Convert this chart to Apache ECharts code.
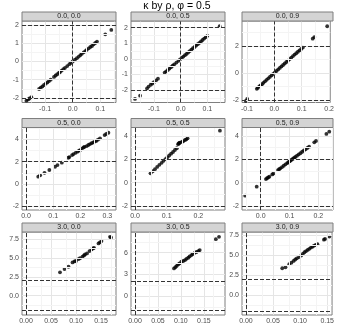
<!DOCTYPE html>
<html>
<head>
<meta charset="utf-8">
<script src="https://cdn.jsdelivr.net/npm/echarts@6/dist/echarts.min.js"></script>
<style>
html,body{margin:0;padding:0;background:#fff;}
#chart{width:337px;height:328px;}
</style>
</head>
<body>
<div id="chart"></div>
<script>
// ---------- data ----------
const titleText = 'κ by ρ, φ = 0.5';
const panelLabels = ['0.0, 0.0','0.0, 0.5','0.0, 0.9','0.5, 0.0','0.5, 0.5','0.5, 0.9','3.0, 0.0','3.0, 0.5','3.0, 0.9'];

const x00 = [-0.168,-0.162,-0.157,-0.150,-0.122,-0.116,-0.110,-0.104,-0.098,-0.092,-0.086,-0.080,-0.068,-0.062,-0.056,-0.050,-0.046,-0.040,-0.034,-0.028,-0.020,-0.012,-0.006,0.000,0.008,0.015,0.022,0.028,0.033,0.040,0.046,0.051,0.058,0.064,0.070,0.076,0.082,0.088,0.118,0.140];
const y00 = [-2.15,-2.08,-2.03,-1.96,-1.51,-1.44,-1.37,-1.29,-1.22,-1.15,-1.07,-1.00,-0.85,-0.77,-0.70,-0.62,-0.58,-0.50,-0.42,-0.35,-0.25,-0.15,-0.07,0.00,0.10,0.18,0.27,0.35,0.42,0.50,0.57,0.64,0.72,0.80,0.85,0.94,1.02,1.09,1.49,1.73];

const x05 = [-0.171,-0.152,-0.126,-0.120,-0.112,-0.106,-0.100,-0.092,-0.085,-0.060,-0.054,-0.048,-0.042,-0.036,-0.030,-0.024,-0.016,-0.008,-0.002,0.004,0.010,0.016,0.022,0.028,0.034,0.040,0.046,0.052,0.058,0.064,0.070,0.076,0.082,0.088,0.094,0.100,0.146];
const y05 = [-2.57,-2.36,-1.90,-1.78,-1.66,-1.58,-1.50,-1.38,-1.27,-0.88,-0.80,-0.71,-0.62,-0.53,-0.44,-0.35,-0.24,-0.12,-0.03,0.06,0.15,0.24,0.32,0.41,0.50,0.59,0.68,0.76,0.85,0.94,1.03,1.12,1.21,1.30,1.39,1.48,2.10];

const x09 = [-0.104,-0.099,-0.064,-0.060,-0.055,-0.050,-0.045,-0.040,-0.034,-0.028,-0.022,-0.016,-0.010,-0.004,0.002,0.008,0.014,0.020,0.026,0.032,0.038,0.044,0.050,0.056,0.062,0.068,0.074,0.080,0.086,0.092,0.098,0.104,0.140,0.146,0.193];
const y09 = [-2.07,-1.93,-1.18,-1.10,-1.00,-0.92,-0.83,-0.73,-0.62,-0.51,-0.40,-0.29,-0.18,-0.07,0.04,0.15,0.26,0.37,0.48,0.59,0.70,0.81,0.92,1.03,1.14,1.25,1.36,1.46,1.57,1.67,1.78,1.88,2.54,2.66,3.46];

const x50 = [0.045,0.052,0.068,0.086,0.107,0.116,0.132,0.156,0.160,0.170,0.175,0.183,0.190,0.196,0.200,0.206,0.212,0.216,0.224,0.230,0.236,0.242,0.248,0.254,0.260,0.266,0.273,0.290,0.296,0.304];
const y50 = [0.65,0.77,1.00,1.25,1.54,1.69,1.90,2.34,2.40,2.58,2.67,2.78,2.88,2.98,3.03,3.15,3.26,3.32,3.38,3.48,3.56,3.64,3.71,3.78,3.86,3.96,4.07,4.36,4.46,4.57];

const x55 = [0.049,0.056,0.063,0.070,0.077,0.084,0.090,0.096,0.102,0.108,0.114,0.120,0.126,0.132,0.136,0.138,0.140,0.142,0.148,0.152,0.158,0.162,0.166,0.268];
const y55 = [0.80,0.98,1.16,1.35,1.53,1.70,1.87,2.02,2.17,2.33,2.49,2.63,2.80,2.95,3.30,3.36,3.40,3.44,3.50,3.55,3.66,3.72,3.80,4.46];

const x59 = [-0.054,-0.014,0.018,0.022,0.026,0.030,0.040,0.044,0.060,0.064,0.068,0.074,0.080,0.086,0.092,0.096,0.100,0.104,0.108,0.112,0.116,0.120,0.126,0.132,0.138,0.144,0.150,0.156,0.162,0.168,0.186,0.192,0.228,0.238];
const y59 = [-1.11,-0.34,0.31,0.38,0.45,0.52,0.71,0.78,1.08,1.16,1.23,1.34,1.45,1.57,1.68,1.75,1.83,1.90,1.98,2.05,2.12,2.20,2.31,2.42,2.53,2.65,2.76,2.87,2.98,3.09,3.46,3.58,4.18,4.37];

const x30 = [0.068,0.077,0.085,0.093,0.097,0.100,0.105,0.108,0.113,0.116,0.118,0.122,0.127,0.131,0.134,0.136,0.145,0.148,0.151,0.168,0.170];
const y30 = [3.10,3.54,3.85,4.42,4.55,4.62,4.87,4.98,5.18,5.35,5.49,5.62,5.93,6.15,6.28,6.37,6.95,7.10,7.26,7.83,7.75];

const x35 = [0.085,0.088,0.091,0.094,0.097,0.101,0.105,0.109,0.112,0.116,0.119,0.123,0.126,0.130,0.134,0.138,0.141,0.176,0.183];
const y35 = [3.82,4.00,4.19,4.38,4.52,4.75,4.85,4.98,5.15,5.30,5.48,5.67,5.82,5.99,6.10,6.22,6.36,7.88,8.20];

const x39 = [0.067,0.073,0.080,0.084,0.088,0.091,0.094,0.098,0.102,0.105,0.108,0.111,0.114,0.117,0.120,0.123,0.126,0.129,0.132,0.144,0.146,0.154];
const y39 = [3.36,3.49,3.86,4.05,4.27,4.45,4.60,4.75,4.94,5.15,5.35,5.50,5.64,5.78,5.93,6.05,6.18,6.28,6.35,6.92,7.01,7.30];

const xSeries = [x00,x05,x09,x50,x55,x59,x30,x35,x39];
const ySeries = [y00,y05,y09,y50,y55,y59,y30,y35,y39];

// tick labels
const xTicks = [[-0.1,0,0.1],[-0.1,0,0.1],[-0.1,0,0.1,0.2],[0,0.1,0.2,0.3],[0,0.1,0.2],[0,0.1,0.2],[0,0.05,0.1,0.15],[0,0.05,0.1,0.15],[0,0.05,0.1,0.15]];
const xDigits = [1,1,1,1,1,1,2,2,2];
const yTicks = [[-2,-1,0,1,2],[-2,-1,0,1,2],[-2,0,2],[-2,0,2,4],[-2,0,2,4],[-2,0,2,4],[0,2.5,5,7.5],[0,3,6],[0,2.5,5,7.5]];
const yDigits = [0,0,0,0,0,0,1,0,1];

// axis ranges
const xMin = [-0.184,-0.186,-0.118,-0.015,-0.0126,-0.065,-0.008,-0.0087,-0.0073];
const xMax = [0.157,0.166,0.204,0.332,0.284,0.251,0.180,0.196,0.159];
const yMin = [-2.25,-2.80,-2.19,-2.32,-2.34,-2.34,-2.57,-2.63,-2.45];
const yMax = [2.22,2.43,3.85,5.04,4.73,4.73,8.47,8.87,7.87];

// reference lines
const hRefs = [2,-2];
const vRefs = [0];

// ---------- layout ----------
const colLeft = [22,131,242];
const colWidth = [94,94,91];
const rowTop = [21,127.5,232];
const rowHeight = [81.5,82.5,83];
const stripH = 9;
const FONT = "'Liberation Sans', Arial, Helvetica, sans-serif";

function minors(t, lo, hi){
  const step = t[1]-t[0];
  const out = [];
  for (let v = t[0]-step/2; v <= hi + 1e-9; v += step){ if (v >= lo - 1e-9) out.push(v); }
  for (let v = t[0]-step*1.5; v >= lo - 1e-9; v -= step){ out.push(v); }
  return out;
}
function fmt(v,d){
  const s = Number(v).toFixed(d);
  return /^-0(\.0+)?$/.test(s) ? s.slice(1) : s;
}

const grids=[], xAxes=[], yAxes=[], series=[], graphics=[];
for (let i=0;i<9;i++){
  const r = Math.floor(i/3), c = i%3;
  grids.push({left:colLeft[c], top:rowTop[r], width:colWidth[c], height:rowHeight[r],
    show:true, borderColor:'#7f7f7f', borderWidth:1, backgroundColor:'#ffffff', containLabel:false});
  const xd = xDigits[i], yd = yDigits[i];
  xAxes.push({gridIndex:i, type:'value', min:xMin[i], max:xMax[i],
    axisLine:{show:false},
    axisTick:{show:true, customValues:xTicks[i], length:2.5, lineStyle:{color:'#7f7f7f', width:1}},
    axisLabel:{customValues:xTicks[i], formatter:(v)=>fmt(v,xd), fontSize:7, color:'#4d4d4d', margin:3, fontFamily:FONT},
    splitLine:{show:false}});
  yAxes.push({gridIndex:i, type:'value', min:yMin[i], max:yMax[i],
    axisLine:{show:false},
    axisTick:{show:true, customValues:yTicks[i], length:2.5, lineStyle:{color:'#7f7f7f', width:1}},
    axisLabel:{customValues:yTicks[i], formatter:(v)=>fmt(v,yd), fontSize:7, color:'#4d4d4d', margin:3, fontFamily:FONT},
    splitLine:{show:false}});

  // grid lines
  const gl = [];
  xTicks[i].forEach(v=>gl.push({xAxis:v, lineStyle:{color:'#e5e5e5', width:1, type:'solid'}}));
  yTicks[i].forEach(v=>gl.push({yAxis:v, lineStyle:{color:'#e5e5e5', width:1, type:'solid'}}));
  minors(xTicks[i], xMin[i], xMax[i]).forEach(v=>gl.push({xAxis:v, lineStyle:{color:'#f4f4f4', width:1, type:'solid'}}));
  minors(yTicks[i], yMin[i], yMax[i]).forEach(v=>gl.push({yAxis:v, lineStyle:{color:'#f4f4f4', width:1, type:'solid'}}));
  series.push({type:'scatter', xAxisIndex:i, yAxisIndex:i, data:[], z:1, silent:true,
    markLine:{silent:true, symbol:['none','none'], label:{show:false}, animation:false, data:gl}});

  // reference dashed lines
  const ref = [];
  hRefs.forEach(v=>ref.push({yAxis:v}));
  vRefs.forEach(v=>ref.push({xAxis:v}));
  series.push({type:'scatter', xAxisIndex:i, yAxisIndex:i, z:3,
    data: xSeries[i].map((x,k)=>[x, ySeries[i][k]]),
    symbol:'circle', symbolSize:3.8, itemStyle:{color:'#000000'},
    markLine:{silent:true, symbol:['none','none'], label:{show:false}, animation:false,
      lineStyle:{color:'#333333', width:1, type:[4,2]}, data:ref}});

  // strip
  graphics.push({type:'rect', shape:{x:colLeft[c], y:rowTop[r]-stripH, width:colWidth[c], height:stripH},
    style:{fill:'#d4d4d4', stroke:'#7f7f7f', lineWidth:1}, z:10});
  graphics.push({type:'text', x:colLeft[c]+colWidth[c]/2, y:rowTop[r]-stripH/2,
    style:{text:panelLabels[i], fill:'#1a1a1a', font:'7px '+FONT, textAlign:'center', textVerticalAlign:'middle'}, z:11});
}
graphics.push({type:'text', x:177, y:6.5,
  style:{text:titleText, fill:'#000000', font:'10.5px '+FONT, textAlign:'center', textVerticalAlign:'middle'}, z:11});

const chart = echarts.init(document.getElementById('chart'), null, {renderer:'canvas'});
chart.setOption({
  animation:false,
  backgroundColor:'#ffffff',
  textStyle:{fontFamily:FONT},
  grid:grids, xAxis:xAxes, yAxis:yAxes, series:series, graphic:graphics
});
</script>
</body>
</html>
